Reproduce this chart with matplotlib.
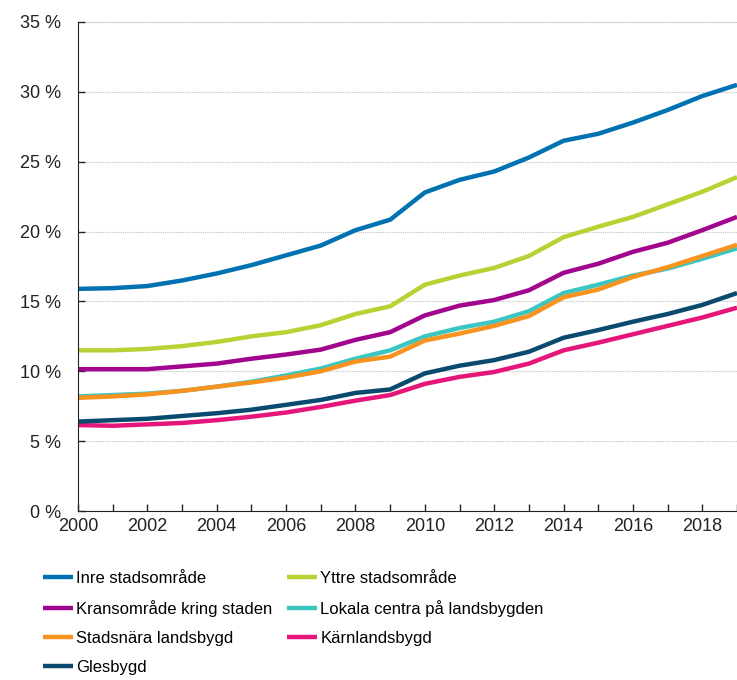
import matplotlib
matplotlib.use("Agg")
import matplotlib.pyplot as plt
from matplotlib.ticker import MultipleLocator, FuncFormatter

plt.rcParams['font.family'] = ['Liberation Sans', 'DejaVu Sans']

# Data
years = list(range(2000, 2020))

inre = [15.9, 15.95, 16.1, 16.5, 17.0, 17.6, 18.3, 19.0, 20.1, 20.85,
        22.8, 23.7, 24.3, 25.3, 26.5, 27.0, 27.8, 28.7, 29.7, 30.5]
yttre = [11.5, 11.5, 11.6, 11.8, 12.1, 12.5, 12.8, 13.3, 14.1, 14.65,
         16.2, 16.85, 17.4, 18.25, 19.6, 20.35, 21.05, 21.95, 22.85, 23.9]
krans = [10.15, 10.15, 10.15, 10.35, 10.55, 10.9, 11.2, 11.55, 12.25, 12.8,
         14.0, 14.7, 15.1, 15.8, 17.05, 17.7, 18.55, 19.2, 20.1, 21.05]
lokala = [8.2, 8.3, 8.4, 8.6, 8.9, 9.25, 9.7, 10.2, 10.9, 11.5,
          12.5, 13.1, 13.55, 14.3, 15.6, 16.2, 16.85, 17.35, 18.05, 18.8]
stadsnara = [8.1, 8.2, 8.35, 8.6, 8.9, 9.2, 9.55, 10.0, 10.7, 11.05,
             12.2, 12.7, 13.25, 13.95, 15.3, 15.85, 16.75, 17.45, 18.25, 19.05]
karn = [6.15, 6.1, 6.2, 6.3, 6.5, 6.75, 7.05, 7.45, 7.9, 8.3,
        9.1, 9.6, 9.95, 10.55, 11.5, 12.05, 12.65, 13.25, 13.85, 14.55]
gles = [6.4, 6.5, 6.6, 6.8, 7.0, 7.25, 7.6, 7.95, 8.45, 8.7,
        9.85, 10.4, 10.8, 11.4, 12.4, 12.95, 13.55, 14.1, 14.75, 15.6]

series = [
    ("Inre stadsområde", inre, "#0072B2"),
    ("Yttre stadsområde", yttre, "#B5D334"),
    ("Kransområde kring staden", krans, "#A1058E"),
    ("Lokala centra på landsbygden", lokala, "#3CC6C1"),
    ("Stadsnära landsbygd", stadsnara, "#F7931E"),
    ("Kärnlandsbygd", karn, "#E5157A"),
    ("Glesbygd", gles, "#0B4A6F"),
]

fig = plt.figure(figsize=(7.37, 6.80), dpi=100)
ax = fig.add_axes([78 / 737, 1 - 511 / 680, 1 - 78 / 737, (511 - 22) / 680])

lines = {}
for name, vals, col in series:
    ln, = ax.plot(years, vals, color=col, linewidth=3.2, label=name,
                  solid_capstyle='butt', solid_joinstyle='round')
    lines[name] = ln

ax.set_xlim(2000, 2019)
ax.set_ylim(0, 35)
ax.yaxis.set_major_locator(MultipleLocator(5))
ax.yaxis.set_major_formatter(FuncFormatter(lambda v, p: f"{v:.0f} %"))
ax.set_xticks(years)
ax.set_xticklabels([str(y) if y % 2 == 0 else "" for y in years])

ax.grid(axis='y', color='#c0c0c0', linestyle=(0, (1, 1)), linewidth=0.8)
ax.axhline(35, color='#d9d9d9', linewidth=1.2, zorder=0)
ax.set_axisbelow(True)
for s in ['top', 'right']:
    ax.spines[s].set_visible(False)
ax.spines['left'].set_color('#222222')
ax.spines['bottom'].set_color('#222222')
ax.tick_params(axis='both', direction='in', length=5, width=1, colors='#222222',
               labelsize=13, labelcolor='#222222')
ax.tick_params(axis='y', pad=12)
ax.tick_params(axis='x', pad=5)

# legend: two columns, filled column by column like the original
col1 = ["Inre stadsområde", "Kransområde kring staden", "Stadsnära landsbygd", "Glesbygd"]
col2 = ["Yttre stadsområde", "Lokala centra på landsbygden", "Kärnlandsbygd"]
leg_kw = dict(loc='upper left', frameon=False, fontsize=12, handlelength=1.8,
              handletextpad=0.2, labelspacing=0.84, borderaxespad=0, borderpad=0)
fig.legend([lines[n] for n in col1], col1,
           bbox_to_anchor=(43 / 737, 1 - 571 / 680), **leg_kw)
fig.legend([lines[n] for n in col2], col2,
           bbox_to_anchor=(287 / 737, 1 - 571 / 680), **leg_kw)

fig.savefig("out.png", dpi=100)
